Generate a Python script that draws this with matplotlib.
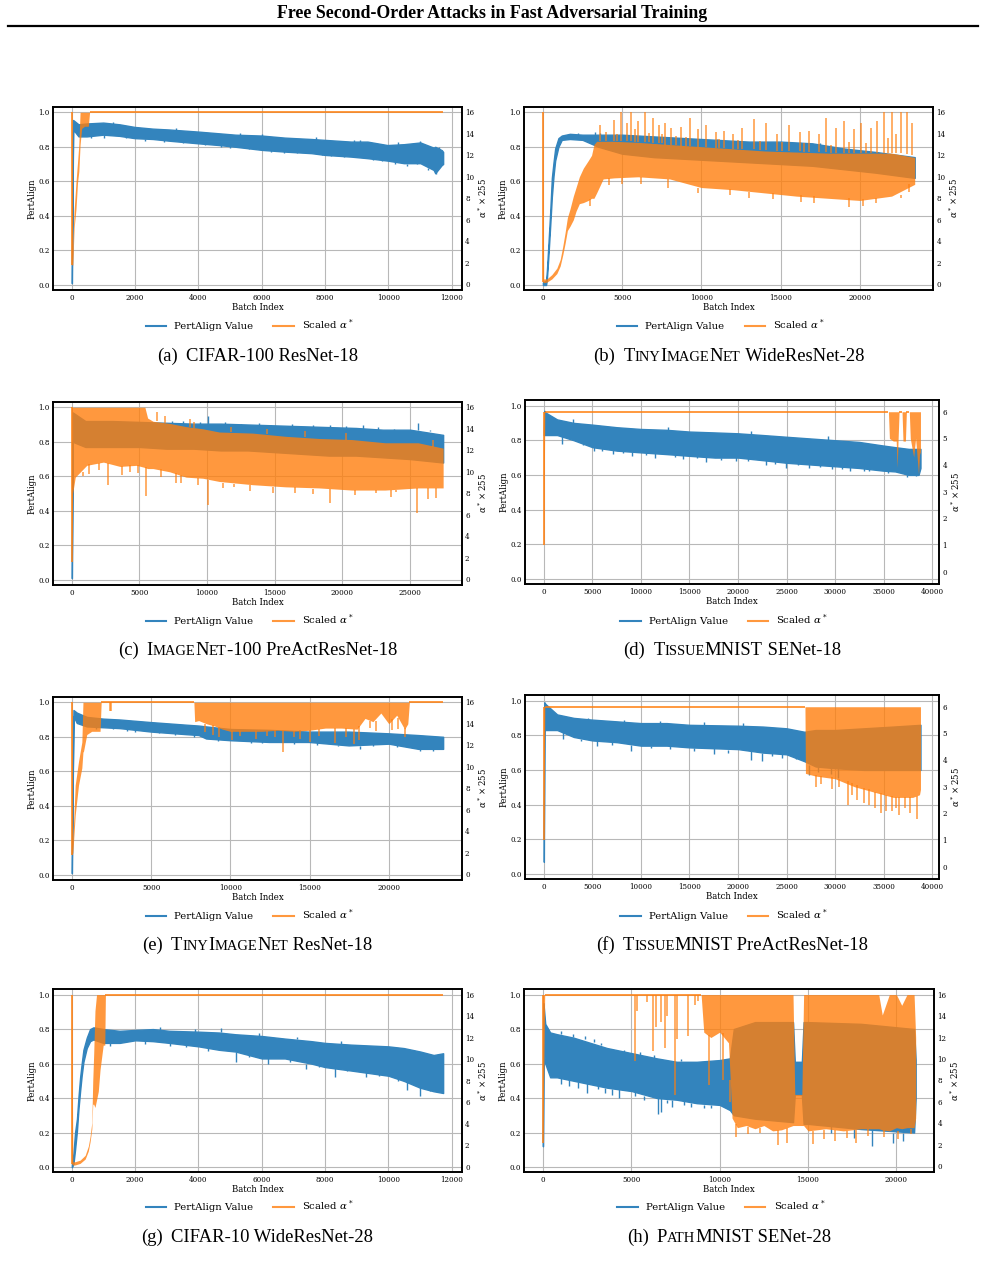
import re
import numpy as np
import matplotlib
matplotlib.use('Agg')
import matplotlib.pyplot as plt
from matplotlib.lines import Line2D
from matplotlib.collections import LineCollection

plt.rcParams['font.family'] = 'DejaVu Serif'
plt.rcParams['mathtext.fontset'] = 'dejavuserif'

W, H = 985, 1273
BLUE = '#3384bd'      # tab:blue at alpha 0.9 on white
ORANGE = '#ff7f0e'    # drawn with alpha 0.8

# ---------------- data ----------------
# bands: x, upper, lower ; spikes: x, low, high
# (a) CIFAR-100 ResNet-18
a_bx = [0, 40, 210, 470, 990, 1510, 1980, 2560, 3080, 3990, 4650, 5170, 6000, 6730, 7570, 7990, 8820, 9340, 9970, 10490, 11010, 11430, 11480, 11690, 11730]
a_bhi = [0.10, 0.955, 0.93, 0.935, 0.94, 0.93, 0.915, 0.905, 0.90, 0.888, 0.878, 0.87, 0.865, 0.853, 0.845, 0.84, 0.83, 0.83, 0.81, 0.815, 0.825, 0.795, 0.80, 0.78, 0.77]
a_blo = [0.01, 0.90, 0.86, 0.86, 0.87, 0.863, 0.85, 0.845, 0.835, 0.82, 0.81, 0.80, 0.782, 0.772, 0.763, 0.753, 0.743, 0.734, 0.72, 0.705, 0.705, 0.666, 0.647, 0.695, 0.70]
a_bspk_x = [1000, 2900, 4700, 5600, 6300, 7100, 7900, 8600, 9500, 10200, 10900, 11500, 6000, 7700, 9100, 10300, 11000,
            600, 1700, 2300, 3500, 4200, 5000, 6700, 8200, 9800, 10600, 11250, 1300, 3300, 5300, 8900, 11600]
a_bspk_lo = [0.85, 0.83, 0.80, 0.79, 0.77, 0.765, 0.75, 0.74, 0.725, 0.70, 0.70, 0.645, 0.85, 0.83, 0.82, 0.80, 0.81,
             0.85, 0.85, 0.835, 0.82, 0.81, 0.795, 0.765, 0.745, 0.715, 0.69, 0.665, 0.925, 0.89, 0.865, 0.825, 0.785]
a_bspk_hi = [0.87, 0.84, 0.82, 0.80, 0.79, 0.77, 0.76, 0.75, 0.74, 0.71, 0.71, 0.67, 0.875, 0.855, 0.84, 0.83, 0.835,
             0.86, 0.86, 0.845, 0.83, 0.82, 0.805, 0.775, 0.755, 0.725, 0.70, 0.675, 0.945, 0.91, 0.88, 0.84, 0.80]
a_ox = [0, 0, 30, 70, 130, 180, 220, 260, 310, 400, 520, 560, 11730]
a_ohi = [16, 16, 3.0, 6.8, 9.5, 11.4, 13.0, 16, 16, 16, 16, 16, 16]
a_olo = [16, 1.8, 1.8, 5.2, 7.0, 9.5, 10.5, 13.0, 14.5, 14.7, 14.7, 16, 16]

# (b) TinyImageNet WideResNet-28
b_bx = [0, 200, 250, 350, 460, 565, 670, 775, 980, 1190, 1700, 2500, 3500, 5000, 7000, 9000, 11000, 13000, 15000, 17000, 19000, 21000, 23460]
b_bhi = [0.015, 0.025, 0.08, 0.24, 0.42, 0.62, 0.71, 0.79, 0.85, 0.865, 0.875, 0.87, 0.87, 0.87, 0.86, 0.85, 0.84, 0.83, 0.83, 0.82, 0.79, 0.77, 0.74]
b_blo = [0.0, 0.0, 0.03, 0.17, 0.34, 0.51, 0.63, 0.72, 0.80, 0.84, 0.845, 0.84, 0.80, 0.76, 0.74, 0.73, 0.72, 0.71, 0.70, 0.69, 0.67, 0.65, 0.62]
b_bspk_x = [11000, 13900, 14200, 16200, 17500, 2200, 3300, 3600]
b_bspk_lo = [0.80, 0.78, 0.78, 0.79, 0.78, 0.87, 0.87, 0.865]
b_bspk_hi = [0.845, 0.83, 0.83, 0.83, 0.82, 0.88, 0.885, 0.88]
b_ox = [0, 0, 50, 250, 565, 880, 1090, 1250, 1400, 1545, 1710, 1920, 2090, 2300, 2550, 2860, 3070, 3220, 3390, 3800, 4500, 6000, 8000, 10000, 12000, 14000, 16000, 18000, 20000, 22000, 23460]
b_ohi = [16, 16, 0.5, 0.5, 0.9, 1.5, 2.3, 3.5, 4.8, 6.2, 7.0, 8.2, 9.0, 10.0, 10.8, 11.5, 12.0, 13.0, 13.3, 13.3, 13.3, 13.2, 13.0, 12.8, 12.6, 12.4, 12.3, 12.2, 12.2, 12.2, 11.8]
b_olo = [16, 0.2, 0.15, 0.2, 0.5, 1.0, 1.7, 2.7, 3.8, 5.0, 5.4, 6.0, 6.8, 7.5, 7.6, 7.8, 8.0, 8.0, 8.5, 9.8, 9.9, 10.0, 9.8, 9.0, 8.8, 8.5, 8.2, 8.0, 7.8, 8.2, 9.3]
b_ospk_x = [3600, 4470, 4950, 5300, 5580, 6000, 6420, 6950, 7300, 7690, 8110, 8700, 9260, 9800, 10300, 10900, 11430, 12000, 12580, 13300, 14100, 14800, 15500, 16200, 16800, 17400, 17870, 18500, 19020, 19600, 20100, 20700, 21100, 21530, 22050, 22570, 23000, 23300,
            4000, 4700, 5800, 6700, 7500, 8400, 9000, 11100, 12300, 13700, 15100, 16500, 18200, 19300, 20400, 21800, 22300,
            5000, 9800, 13000, 16300, 19300, 21000, 22600, 3000, 4200, 6200, 7900, 11800, 14500, 17100, 20200, 23100]
b_ospk_lo = [13.3, 13.3, 13.3, 13.3, 13.3, 13.2, 13.2, 13.1, 13.1, 13.0, 13.0, 12.9, 12.9, 12.8, 12.8, 12.7, 12.7, 12.6, 12.6, 12.6, 12.5, 12.4, 12.4, 12.4, 12.3, 12.3, 12.3, 12.2, 12.2, 12.2, 12.2, 12.2, 12.2, 12.2, 12.2, 12.2, 12.1, 12.0,
             13.3, 13.3, 13.2, 13.2, 13.1, 13.0, 12.9, 12.7, 12.6, 12.5, 12.4, 12.3, 12.2, 12.2, 12.2, 12.2, 12.2,
             9.3, 8.5, 8.0, 7.7, 7.2, 7.6, 8.0, 7.3, 9.2, 9.3, 9.0, 8.3, 7.9, 7.6, 7.3, 8.6]
b_ospk_hi = [14.8, 15.3, 16, 15, 16, 15.2, 16, 15.5, 14.8, 15, 14.5, 14.6, 15.5, 14.4, 14.8, 14.2, 14.3, 14.0, 14.5, 15.4, 15, 14.0, 14.8, 14.2, 14.3, 14.0, 15.5, 14.5, 15.2, 14.4, 15, 14.5, 15.2, 16, 16, 16, 16, 15,
             14.2, 14.0, 14.4, 14.1, 14.0, 13.8, 13.7, 13.5, 13.4, 13.3, 13.2, 13.1, 13.0, 13.2, 13.1, 13.6, 14.0,
             9.9, 9.0, 8.6, 8.3, 8.0, 8.0, 8.3, 7.9, 9.9, 10.0, 9.8, 8.9, 8.5, 8.2, 7.9, 9.3]

# (c) ImageNet-100 PreActResNet-18
c_bx = [0, 60, 1000, 3000, 5000, 7000, 9000, 11000, 13000, 15000, 17000, 19000, 21000, 23000, 25000, 27450]
c_bhi = [0.10, 0.97, 0.92, 0.92, 0.915, 0.91, 0.905, 0.905, 0.90, 0.895, 0.89, 0.885, 0.88, 0.87, 0.87, 0.84]
c_blo = [0.01, 0.80, 0.77, 0.77, 0.77, 0.76, 0.76, 0.75, 0.75, 0.74, 0.73, 0.72, 0.72, 0.71, 0.70, 0.68]
c_bspk_x = [10050, 19100, 25600, 8200, 13800, 16300, 21500, 7400, 9500, 11300, 12500, 14700, 17800, 20300, 22600, 23800, 26500]
c_bspk_lo = [0.90, 0.88, 0.87, 0.90, 0.895, 0.89, 0.875, 0.905, 0.90, 0.90, 0.895, 0.89, 0.885, 0.88, 0.87, 0.865, 0.86]
c_bspk_hi = [0.95, 0.90, 0.91, 0.92, 0.91, 0.905, 0.895, 0.92, 0.915, 0.915, 0.905, 0.90, 0.895, 0.89, 0.885, 0.875, 0.87]
c_ox = [0, 0, 60, 250, 1100, 2330, 3550, 4780, 5400, 5600, 6000, 7230, 8450, 9680, 10900, 13360, 15800, 18260, 20700, 23160, 25600, 27450]
c_ohi = [16, 16, 16, 16, 16, 16, 16, 16, 16, 15.0, 14.7, 14.5, 14.2, 14.0, 13.7, 13.6, 13.3, 13.1, 13.0, 12.7, 12.7, 12.2]
c_olo = [16, 1.6, 8.0, 9.5, 10.6, 10.9, 10.5, 10.6, 10.4, 10.3, 10.3, 10.0, 9.5, 9.4, 9.1, 8.8, 8.6, 8.5, 8.3, 8.3, 8.5, 8.5]
c_ospk_x = [2700, 3680, 5460, 7700, 10050, 12000, 16500, 19100, 22500, 24000, 25500, 26350, 1300, 4300,
            6300, 6900, 8700, 9000, 11800, 14400, 17200, 20300, 26700,
            800, 2000, 4900, 6600, 8100, 9300, 11200, 13200, 14900, 17800, 20900, 23600, 26900]
c_ospk_lo = [8.8, 9.7, 7.75, 9.0, 6.9, 8.6, 8.0, 7.1, 8.0, 8.1, 6.2, 7.5, 9.8, 10.0,
             14.7, 14.5, 14.2, 14.1, 13.7, 13.5, 13.2, 13.0, 12.3,
             9.6, 10.2, 9.9, 9.5, 9.0, 8.8, 8.5, 8.2, 8.0, 7.9, 7.8, 7.7, 7.6]
c_ospk_hi = [10.8, 10.5, 10.4, 9.9, 9.2, 8.9, 8.6, 8.4, 8.3, 8.3, 8.5, 8.5, 10.7, 10.6,
             15.6, 15.2, 14.9, 14.6, 14.2, 14.0, 13.8, 13.6, 13.0,
             10.0, 10.8, 10.6, 10.3, 9.7, 9.4, 9.0, 8.8, 8.6, 8.4, 8.3, 8.3, 8.5]

# (d) TissueMNIST SENet-18
d_bx = [0, 50, 170, 1370, 3080, 5000, 7520, 10000, 12650, 15000, 17600, 20000, 22560, 25000, 27500, 30000, 32500, 34900, 36200, 37600, 38600, 38800]
d_bhi = [0.85, 0.97, 0.96, 0.92, 0.90, 0.89, 0.875, 0.865, 0.86, 0.85, 0.845, 0.84, 0.83, 0.82, 0.81, 0.80, 0.79, 0.77, 0.76, 0.75, 0.75, 0.75]
d_blo = [0.83, 0.83, 0.83, 0.83, 0.80, 0.76, 0.74, 0.73, 0.72, 0.71, 0.70, 0.70, 0.685, 0.67, 0.66, 0.65, 0.64, 0.625, 0.62, 0.60, 0.60, 0.64]
d_bspk_x = [1850, 5200, 7100, 9100, 11500, 14300, 16700, 19800, 22900, 24900, 27300, 29700, 31500, 33500, 37400, 38300, 3000, 12800, 21300, 29300,
            4000, 6000, 8200, 10500, 13500, 15800, 18300, 21000, 23800, 26200, 28500, 30700, 33000, 35500]
d_bspk_lo = [0.78, 0.74, 0.72, 0.71, 0.70, 0.69, 0.675, 0.68, 0.655, 0.64, 0.64, 0.635, 0.625, 0.62, 0.59, 0.595, 0.895, 0.855, 0.835, 0.80,
             0.77, 0.74, 0.725, 0.715, 0.705, 0.695, 0.685, 0.68, 0.665, 0.655, 0.645, 0.635, 0.625, 0.61]
d_bspk_hi = [0.83, 0.765, 0.745, 0.735, 0.725, 0.715, 0.705, 0.705, 0.69, 0.675, 0.665, 0.655, 0.645, 0.635, 0.605, 0.605, 0.92, 0.875, 0.855, 0.825,
             0.785, 0.755, 0.74, 0.73, 0.72, 0.71, 0.70, 0.695, 0.68, 0.67, 0.66, 0.65, 0.64, 0.625]
d_ox = [0, 0, 100, 35500, 35600, 36000, 36300, 36400, 36500, 36600, 36900, 37000, 37250, 37350, 37650, 37750, 38100, 38300, 38600, 38700, 38800]
d_ohi = [6, 6, 6, 6, 6, 6, 6, 6, 6, 6, 6, 6, 6, 6, 6, 6, 6, 6, 6, 6, 6]
d_olo = [6, 1.0, 6, 6, 5.0, 4.9, 4.9, 3.9, 5.0, 6, 6, 4.9, 4.9, 6, 6, 5.0, 4.3, 5.0, 3.65, 4.4, 4.5]

# (e) TinyImageNet ResNet-18
e_bx = [0, 100, 310, 940, 1990, 3030, 5000, 7220, 8000, 8470, 10000, 12450, 14960, 17470, 20000, 21860, 23430]
e_bhi = [0.10, 0.955, 0.94, 0.915, 0.905, 0.90, 0.885, 0.87, 0.865, 0.86, 0.845, 0.84, 0.83, 0.83, 0.82, 0.81, 0.80]
e_blo = [0.01, 0.92, 0.88, 0.86, 0.855, 0.85, 0.83, 0.815, 0.81, 0.79, 0.78, 0.77, 0.77, 0.75, 0.76, 0.73, 0.73]
e_bspk_x = [11300, 16800, 18200, 22000, 4000, 6500, 14000, 1500, 2600, 3500, 5500, 7700, 9200, 12000, 15500, 19000, 20500, 22800]
e_bspk_lo = [0.765, 0.745, 0.73, 0.72, 0.825, 0.81, 0.76, 0.845, 0.845, 0.835, 0.82, 0.80, 0.775, 0.765, 0.755, 0.745, 0.74, 0.715]
e_bspk_hi = [0.775, 0.755, 0.745, 0.735, 0.84, 0.82, 0.772, 0.86, 0.855, 0.85, 0.83, 0.815, 0.785, 0.775, 0.77, 0.757, 0.76, 0.73]
e_ox = [0, 0, 60, 210, 420, 630, 700, 730, 940, 1250, 1780, 1850, 7700, 7750, 8000, 8500, 9000, 9500, 10000, 11000, 12000, 13000, 14000, 15000, 16000, 17000, 18000, 18500, 19000, 19500, 20000, 20500, 21000, 21200, 21300, 23430]
e_ohi = [16, 16, 3.0, 8.3, 10.5, 12.3, 16, 16, 16, 16, 16, 16, 16, 16, 16, 16, 16, 16, 16, 16, 16, 16, 16, 16, 16, 16, 16, 16, 16, 16, 16, 16, 16, 16, 16, 16]
e_olo = [16, 1.8, 2.0, 5.5, 8.3, 9.9, 11.4, 11.4, 13.0, 13.3, 13.3, 16, 16, 14.2, 14.3, 14.0, 13.8, 13.5, 13.3, 13.3, 13.3, 13.4, 13.3, 13.4, 13.6, 13.6, 13.5, 14.5, 14.2, 15.0, 14.0, 14.8, 13.5, 14.0, 16, 16]
e_ospk_x = [2400, 2500, 8400, 9300, 10100, 11600, 12800, 13300, 14400, 15000, 16600, 17800, 18100, 19200, 20600, 21000, 8900, 10600, 12300, 14000, 15600, 17300, 18800, 20200]
e_ospk_lo = [15.2, 15.2, 13.2, 12.8, 12.5, 12.6, 12.8, 11.4, 12.6, 12.3, 12.2, 12.1, 12.5, 13.3, 13.5, 12.8, 13.0, 12.9, 12.9, 12.8, 12.9, 12.8, 13.6, 13.4]
e_ospk_hi = [16, 16, 14.0, 13.7, 13.3, 13.3, 13.4, 13.4, 13.4, 13.4, 13.6, 13.5, 13.8, 14.3, 14.5, 13.6, 13.9, 13.3, 13.3, 13.3, 13.5, 13.6, 14.3, 14.4]

# (f) TissueMNIST PreActResNet-18
f_bx = [0, 50, 170, 1370, 3080, 5000, 7520, 10000, 12650, 15000, 20000, 22560, 25000, 26850, 28000, 30000, 33000, 36000, 38800]
f_bhi = [0.20, 0.99, 0.98, 0.92, 0.90, 0.89, 0.88, 0.87, 0.87, 0.86, 0.855, 0.85, 0.84, 0.82, 0.83, 0.83, 0.84, 0.85, 0.86]
f_blo = [0.07, 0.84, 0.83, 0.83, 0.79, 0.77, 0.76, 0.74, 0.74, 0.73, 0.72, 0.70, 0.69, 0.65, 0.62, 0.61, 0.60, 0.60, 0.60]
f_bspk_x = [2000, 5500, 9000, 13000, 17500, 21300, 22500, 24500, 27300, 28200, 29600, 30300,
            3800, 7000, 11000, 15500, 19000, 23500, 26000, 4600, 8300, 12000, 16500, 20500]
f_bspk_lo = [0.78, 0.74, 0.71, 0.72, 0.69, 0.66, 0.65, 0.67, 0.57, 0.59, 0.575, 0.555,
             0.765, 0.745, 0.725, 0.71, 0.70, 0.68, 0.665, 0.885, 0.875, 0.865, 0.86, 0.855]
f_bspk_hi = [0.83, 0.77, 0.745, 0.74, 0.73, 0.72, 0.70, 0.69, 0.63, 0.62, 0.615, 0.61,
             0.78, 0.76, 0.74, 0.725, 0.715, 0.695, 0.68, 0.90, 0.89, 0.88, 0.875, 0.87]
f_ox = [0, 0, 100, 26900, 26950, 28000, 30000, 32000, 34000, 36000, 38000, 38700, 38800]
f_ohi = [6, 6, 6, 6, 6, 6, 6, 6, 6, 6, 6, 6, 6]
f_olo = [6, 1.0, 6, 6, 3.5, 3.4, 3.3, 3.0, 2.8, 2.6, 2.6, 2.7, 2.9]
f_ospk_x = [28000, 28600, 29700, 30400, 31300, 31700, 32300, 33000, 33500, 34100, 34700, 35300, 35900, 36300, 36600, 37200, 37700, 38400]
f_ospk_lo = [3.0, 3.1, 2.9, 3.0, 2.3, 2.7, 2.5, 2.4, 2.3, 2.2, 2.0, 2.1, 2.1, 2.2, 1.95, 2.2, 2.0, 1.8]
f_ospk_hi = [3.45, 3.4, 3.35, 3.3, 3.2, 3.15, 3.05, 2.95, 2.9, 2.8, 2.75, 2.7, 2.65, 2.6, 2.6, 2.6, 2.6, 2.65]

# (g) CIFAR-10 WideResNet-28
g_bx = [0, 50, 100, 160, 210, 260, 310, 365, 470, 575, 680, 990, 1510, 2000, 2560, 3080, 4000, 4650, 5170, 6000, 6730, 7570, 8000, 8820, 10000, 10490, 11010, 11430, 11730]
g_bhi = [0.015, 0.08, 0.20, 0.28, 0.41, 0.52, 0.60, 0.68, 0.75, 0.80, 0.81, 0.80, 0.79, 0.795, 0.80, 0.79, 0.785, 0.78, 0.77, 0.76, 0.745, 0.73, 0.72, 0.71, 0.70, 0.69, 0.67, 0.65, 0.66]
g_blo = [0.0, 0.02, 0.10, 0.21, 0.34, 0.44, 0.53, 0.61, 0.69, 0.73, 0.74, 0.72, 0.72, 0.735, 0.73, 0.72, 0.70, 0.68, 0.67, 0.63, 0.63, 0.60, 0.58, 0.56, 0.53, 0.50, 0.46, 0.44, 0.43]
g_bspk_x = [4700, 5200, 7400, 8300, 10600, 11000, 9300, 6200, 3100,
            1200, 2300, 3600, 4300, 5600, 6900, 7800, 8700, 9700, 10300, 11300, 2800, 3900, 5900, 7100, 8500, 10800]
g_bspk_lo = [0.785, 0.61, 0.57, 0.52, 0.445, 0.415, 0.52, 0.60, 0.70,
             0.70, 0.715, 0.695, 0.675, 0.64, 0.61, 0.58, 0.555, 0.53, 0.50, 0.44, 0.795, 0.785, 0.76, 0.74, 0.715, 0.665]
g_bspk_hi = [0.806, 0.67, 0.60, 0.575, 0.50, 0.465, 0.55, 0.63, 0.72,
             0.72, 0.735, 0.71, 0.69, 0.66, 0.63, 0.60, 0.57, 0.545, 0.515, 0.455, 0.81, 0.80, 0.775, 0.755, 0.73, 0.68]
g_ox = [0, 0, 30, 100, 260, 420, 520, 575, 630, 660, 690, 730, 780, 835, 890, 990, 1040, 1060, 11730]
g_ohi = [16, 16, 0.45, 0.45, 0.6, 1.05, 1.9, 2.8, 4.1, 8.0, 10.5, 14.5, 16, 16, 16, 16, 16, 16, 16]
g_olo = [16, 0.2, 0.15, 0.15, 0.3, 0.7, 1.45, 2.3, 3.5, 5.8, 5.8, 5.5, 6.2, 7.0, 9.0, 11.3, 11.3, 16, 16]

# (h) PathMNIST SENet-28
h_bx = [0, 30, 130, 410, 790, 1730, 2670, 3620, 5030, 6440, 7570, 8700, 10000, 10580, 10800, 12000, 14150, 14250, 14650, 14750, 15000, 18000, 21000, 21090]
h_bhi = [0.13, 0.95, 0.83, 0.78, 0.77, 0.75, 0.72, 0.69, 0.66, 0.63, 0.61, 0.61, 0.62, 0.63, 0.80, 0.84, 0.84, 0.61, 0.61, 0.84, 0.84, 0.83, 0.80, 0.62]
h_blo = [0.12, 0.70, 0.60, 0.52, 0.52, 0.50, 0.48, 0.46, 0.44, 0.40, 0.39, 0.37, 0.36, 0.33, 0.30, 0.28, 0.26, 0.42, 0.42, 0.25, 0.25, 0.22, 0.20, 0.40]
h_bspk_x = [1000, 2500, 3100, 4300, 6500, 6700, 7300, 8000, 9500, 16300, 17600, 18600, 19800, 20400, 1000, 2400, 4600, 6300,
            1500, 2000, 3500, 3900, 5200, 5700, 7000, 8400, 9100, 1700, 2900, 3300, 5500, 7800]
h_bspk_lo = [0.48, 0.43, 0.45, 0.40, 0.305, 0.32, 0.35, 0.36, 0.34, 0.20, 0.17, 0.12, 0.14, 0.15, 0.77, 0.745, 0.66, 0.63,
             0.47, 0.46, 0.43, 0.42, 0.41, 0.39, 0.37, 0.35, 0.34, 0.755, 0.725, 0.705, 0.65, 0.615]
h_bspk_hi = [0.52, 0.49, 0.48, 0.45, 0.40, 0.40, 0.39, 0.38, 0.36, 0.25, 0.22, 0.22, 0.20, 0.20, 0.79, 0.76, 0.68, 0.65,
             0.51, 0.49, 0.46, 0.45, 0.44, 0.41, 0.39, 0.37, 0.36, 0.77, 0.74, 0.72, 0.665, 0.625]
h_ox = [0, 0, 100, 8950, 9100, 9500, 10000, 10500, 10700, 11000, 11500, 12000, 12500, 13000, 13500, 14150, 14250, 14650, 14750, 15000, 16000, 17000, 18000, 19000, 19200, 19600, 20000, 20300, 20600, 21000, 21090]
h_ohi = [16, 16, 16, 16, 16, 16, 16, 16, 16, 16, 16, 16, 16, 16, 16, 16, 6.7, 6.7, 16, 16, 16, 16, 16, 16, 14.1, 16, 16, 15.0, 16, 16, 12.0]
h_olo = [16, 2.2, 16, 16, 12.5, 12.0, 12.5, 11.5, 4.5, 3.6, 3.8, 3.5, 3.8, 3.3, 3.4, 3.8, 3.8, 3.8, 3.8, 3.3, 3.5, 3.3, 3.5, 3.5, 3.4, 3.3, 3.6, 3.5, 3.6, 3.6, 4.5]
h_ospk_x = [5200, 5300, 5900, 6200, 6400, 6700, 6900, 7000, 7500, 7600, 8200, 8600, 8800, 9400, 10200, 10600, 10900, 11600, 12300, 13300, 13800, 15300, 15900, 16500, 17200, 17700, 18400, 19300, 20100, 20800]
h_ospk_lo = [9.8, 14.5, 15.3, 10.7, 13.0, 13.4, 11.0, 14.0, 6.6, 11.9, 12.1, 15.0, 15.4, 7.6, 8.0, 6.0, 2.7, 3.0, 3.1, 2.0, 2.2, 2.1, 2.5, 2.4, 2.6, 2.2, 2.8, 2.7, 2.5, 3.0]
h_ospk_hi = [16, 16, 16, 16, 16, 16, 16, 16, 16, 16, 16, 16, 16, 12.2, 12.4, 8.0, 3.9, 3.7, 3.6, 3.4, 3.6, 3.3, 3.4, 3.4, 3.3, 3.4, 3.5, 3.4, 3.3, 3.5]

labels = ['(a)', '(b)', '(c)', '(d)', '(e)', '(f)', '(g)', '(h)']
datasets = ['', 'TinyImageNet', 'ImageNet', 'TissueMNIST', 'TinyImageNet', 'TissueMNIST', '', 'PathMNIST']
models = ['CIFAR-100 ResNet-18', ' WideResNet-28', '-100 PreActResNet-18', ' SENet-18',
          ' ResNet-18', ' PreActResNet-18', 'CIFAR-10 WideResNet-28', ' SENet-28']
x_ends = [11730, 23460, 27450, 38800, 23430, 38800, 11730, 21090]
alpha_max = [16, 16, 16, 6, 16, 6, 16, 16]

# ---------------- layout (pixels) ----------------
rects = [(53.3, 106.7, 461.7, 290), (524.3, 106.7, 933.3, 290),
         (53.3, 401.7, 461.7, 585), (525, 400, 939.3, 584),
         (53.3, 696.7, 461.7, 880), (525, 695, 939.3, 879),
         (53.3, 989, 461.7, 1172.3), (524.3, 989, 934.3, 1172)]
legend_y = [325, 325, 620, 620, 915, 915, 1206, 1206]
caption_y = [361, 361, 655, 655, 950, 950, 1242, 1242]

bands = [
    (a_bx, a_bhi, a_blo, a_ox, a_ohi, a_olo),
    (b_bx, b_bhi, b_blo, b_ox, b_ohi, b_olo),
    (c_bx, c_bhi, c_blo, c_ox, c_ohi, c_olo),
    (d_bx, d_bhi, d_blo, d_ox, d_ohi, d_olo),
    (e_bx, e_bhi, e_blo, e_ox, e_ohi, e_olo),
    (f_bx, f_bhi, f_blo, f_ox, f_ohi, f_olo),
    (g_bx, g_bhi, g_blo, g_ox, g_ohi, g_olo),
    (h_bx, h_bhi, h_blo, h_ox, h_ohi, h_olo),
]
blue_spikes = [(a_bspk_x, a_bspk_lo, a_bspk_hi), (b_bspk_x, b_bspk_lo, b_bspk_hi),
               (c_bspk_x, c_bspk_lo, c_bspk_hi), (d_bspk_x, d_bspk_lo, d_bspk_hi),
               (e_bspk_x, e_bspk_lo, e_bspk_hi), (f_bspk_x, f_bspk_lo, f_bspk_hi),
               (g_bspk_x, g_bspk_lo, g_bspk_hi), (h_bspk_x, h_bspk_lo, h_bspk_hi)]
orange_spikes = [None, (b_ospk_x, b_ospk_lo, b_ospk_hi), (c_ospk_x, c_ospk_lo, c_ospk_hi), None,
                 (e_ospk_x, e_ospk_lo, e_ospk_hi), (f_ospk_x, f_ospk_lo, f_ospk_hi), None,
                 (h_ospk_x, h_ospk_lo, h_ospk_hi)]

fig = plt.figure(figsize=(W / 100, H / 100), dpi=100)
renderer = fig.canvas.get_renderer()

fig.text(0.5, 1 - 13 / H, 'Free Second-Order Attacks in Fast Adversarial Training',
         ha='center', va='center', fontsize=12.9, fontweight='bold', family='Liberation Serif')
fig.add_artist(Line2D([8 / W, 978 / W], [1 - 25.5 / H, 1 - 25.5 / H], color='black', lw=1.6))


def advance(s, f):
    # advance width of s, measured between two bars so side bearings and spaces count
    t = fig.text(0, 0, '|' + s + '|', fontsize=f, family='Liberation Serif')
    w1 = t.get_window_extent(renderer).width
    t.set_text('||')
    w0 = t.get_window_extent(renderer).width
    t.remove()
    return w1 - w0


def caption(xc, yb, label, dataset, rest, fs=13.4, gap=8):
    pieces = [(label, fs)]
    for run in re.findall(r'[a-z]+|[^a-z]+', dataset):
        pieces.append((run.upper(), fs * 0.78) if run.islower() else (run, fs))
    pieces.append((rest, fs))
    widths = [advance(s, f) for s, f in pieces]
    x = xc - (sum(widths) + gap) / 2
    for i, (s, f) in enumerate(pieces):
        fig.text(x / W, 1 - yb / H, s, fontsize=f, family='Liberation Serif', va='baseline', ha='left')
        x += widths[i] + (gap if i == 0 else 0)


def thin_parts(x, hi, lo):
    # pieces of the orange trace with no band width: flat runs and vertical drops
    segs = []
    for j in range(len(x) - 1):
        if x[j] == x[j + 1]:
            segs.append([(x[j], min(lo[j], lo[j + 1])), (x[j], max(hi[j], hi[j + 1]))])
        elif hi[j] == lo[j] and hi[j + 1] == lo[j + 1]:
            segs.append([(x[j], hi[j]), (x[j + 1], hi[j + 1])])
    return segs


for i in range(8):
    l, t, r, b = rects[i]
    ax = fig.add_axes([l / W, 1 - b / H, (r - l) / W, (b - t) / H])
    ax2 = ax.twinx()
    bx, bhi, blo, ox, ohi, olo = bands[i]
    ax.fill_between(bx, blo, bhi, color=BLUE, lw=1.0)
    sx, slo, shi = blue_spikes[i]
    ax.vlines(sx, slo, shi, color=BLUE, lw=1.0)
    ax2.fill_between(ox, olo, ohi, color=ORANGE, alpha=0.8, lw=0)
    ax2.add_collection(LineCollection(thin_parts(ox, ohi, olo), colors=ORANGE, alpha=0.8, lw=1.4))
    if orange_spikes[i] is not None:
        sx, slo, shi = orange_spikes[i]
        ax2.vlines(sx, slo, shi, color=ORANGE, alpha=0.8, lw=1.1)

    xe = x_ends[i]
    ax.set_xlim(-0.05 * xe, 1.05 * xe)
    ax.set_ylim(-0.029, 1.032)
    ax.set_yticks(np.arange(0, 1.01, 0.2))
    ax.set_yticklabels(['%.1f' % v for v in np.arange(0, 1.01, 0.2)])
    step = 2000 if xe < 15000 else 5000
    ax.set_xticks(np.arange(0, xe * 1.05, step))
    if alpha_max[i] == 16:
        ax2.set_ylim(-0.53, 16.52)
        ax2.set_yticks(np.arange(0, 17, 2))
    else:
        ax2.set_ylim(-0.46, 6.44)
        ax2.set_yticks(np.arange(0, 7, 1))

    ax.set_axisbelow(True)
    ax.grid(True, color='#b8b8b8', lw=0.8)
    for a_ in (ax, ax2):
        a_.tick_params(labelsize=5.1, length=0, pad=2.4)
        for sp in a_.spines.values():
            sp.set_linewidth(1.2)
    ax.tick_params(axis='x', pad=2.9)
    ax.set_xlabel('Batch Index', fontsize=6.2, labelpad=0.5)
    ax.set_ylabel('PertAlign', fontsize=6.2, labelpad=1.5)
    ax2.set_ylabel(r'$\alpha^* \times 255$', fontsize=6.2, labelpad=1.5)

    xc = (l + r) / 2
    handles = [Line2D([], [], color=BLUE, lw=1.5), Line2D([], [], color=ORANGE, alpha=0.8, lw=1.5)]
    fig.legend(handles, ['PertAlign Value', r'Scaled $\alpha^*$'], loc='center',
               bbox_to_anchor=((xc - 8) / W, 1 - legend_y[i] / H), ncol=2, frameon=False,
               fontsize=7.3, borderaxespad=0, borderpad=0)
    caption(xc, caption_y[i], labels[i], datasets[i], models[i])

fig.savefig('out.png', dpi=100)
